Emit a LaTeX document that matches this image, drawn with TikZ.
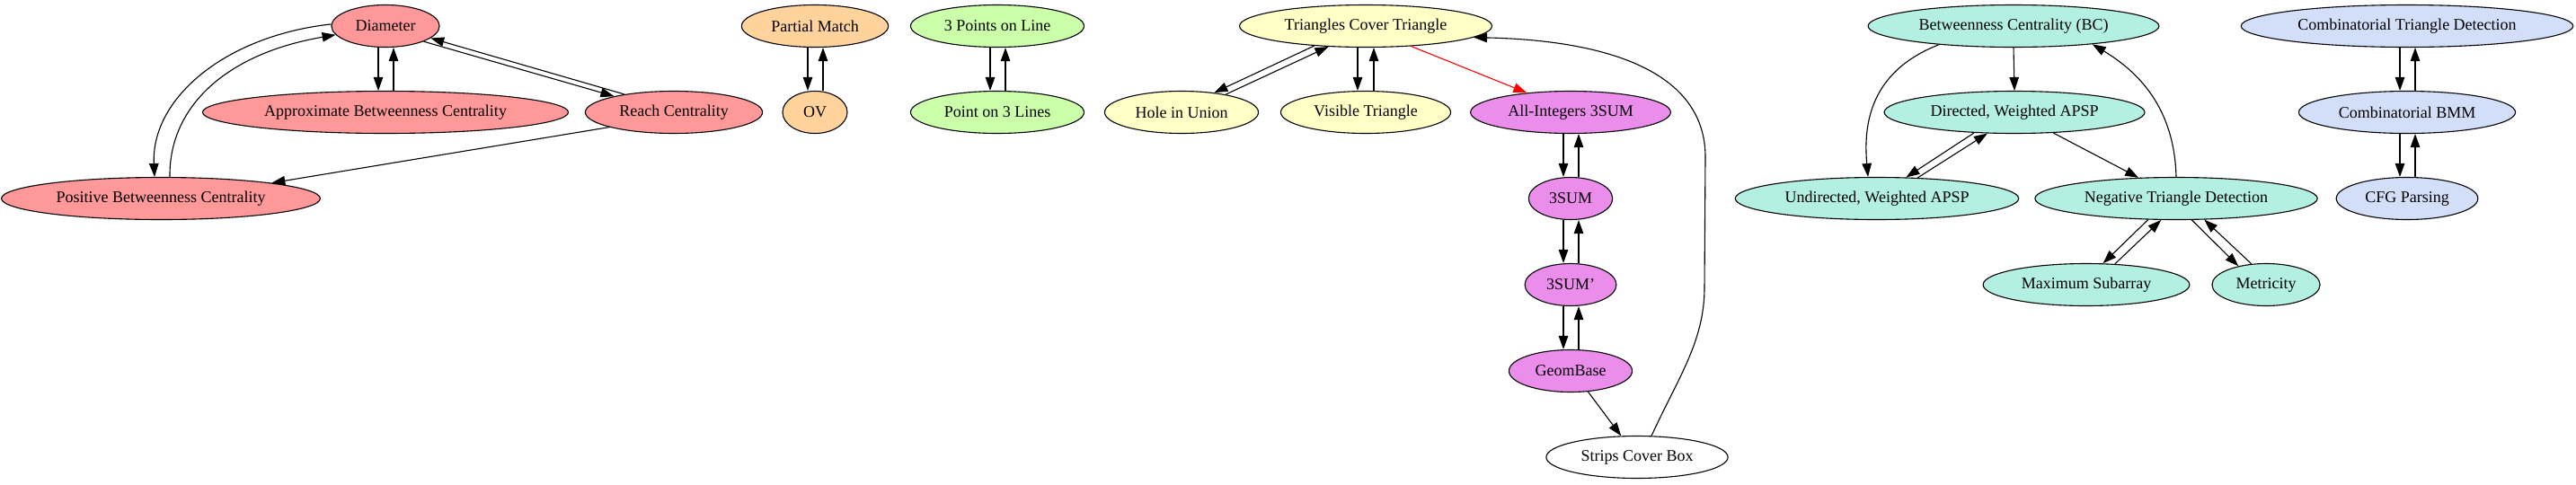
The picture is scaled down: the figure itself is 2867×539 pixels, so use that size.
\documentclass[tikz,border=0pt]{standalone}
\usepackage{fontspec}
\setmainfont{Liberation Serif}
\usetikzlibrary{arrows.meta,shapes.geometric}
\definecolor{redfill}{HTML}{FF9999}
\definecolor{orangefill}{HTML}{FFD39B}
\definecolor{greenfill}{HTML}{CCFFAA}
\definecolor{yellowfill}{HTML}{FFFFC6}
\definecolor{violetfill}{HTML}{EB8EEB}
\definecolor{tealfill}{HTML}{B3F0E1}
\definecolor{bluefill}{HTML}{D3DEF8}
\tikzset{
  prob/.style={ellipse, draw, line width=1.1pt, inner xsep=9pt, inner ysep=2pt,
    minimum height=47pt, minimum width=72pt, font=\fontsize{18}{20}\selectfont},
  redprob/.style={prob, fill=redfill},
  orangeprob/.style={prob, fill=orangefill},
  greenprob/.style={prob, fill=greenfill},
  yellowprob/.style={prob, fill=yellowfill},
  violetprob/.style={prob, fill=violetfill},
  tealprob/.style={prob, fill=tealfill},
  blueprob/.style={prob, fill=bluefill}
}
\begin{document}
\begin{tikzpicture}[x=1pt,y=-1pt,>={Triangle[length=15pt,width=10.5pt]},line width=1.1pt]
\useasboundingbox (0,0) rectangle (2867,539);
\node [redprob] (dia) at (429,29) {Diameter};
\node [redprob] (abc) at (429,125) {Approximate Betweenness Centrality};
\node [redprob] (rch) at (750,125) {Reach Centrality};
\node [redprob] (pbc) at (179,221) {Positive Betweenness Centrality};
\node [orangeprob] (pm) at (907,29) {Partial Match};
\node [orangeprob] (ov) at (907,125) {OV};
\node [greenprob] (tpl) at (1110,29) {3 Points on Line};
\node [greenprob] (pol) at (1110,125) {Point on 3 Lines};
\node [yellowprob] (tct) at (1520,29) {Triangles Cover Triangle};
\node [yellowprob] (hiu) at (1315,125) {Hole in Union};
\node [yellowprob] (vis) at (1520,125) {Visible Triangle};
\node [violetprob] (ai3) at (1748,125) {All-Integers 3SUM};
\node [violetprob] (tsum) at (1748,221) {3SUM};
\node [violetprob] (tsump) at (1748,317) {3SUM'};
\node [violetprob] (geo) at (1748,413) {GeomBase};
\node [prob] (scb) at (1822,509) {Strips Cover Box};
\node [tealprob] (bc) at (2241,29) {Betweenness Centrality (BC)};
\node [tealprob] (dwa) at (2242,125) {Directed, Weighted APSP};
\node [tealprob] (uwa) at (2089,221) {Undirected, Weighted APSP};
\node [tealprob] (ntd) at (2422,221) {Negative Triangle Detection};
\node [tealprob] (msa) at (2322,317) {Maximum Subarray};
\node [tealprob] (met) at (2522,317) {Metricity};
\node [blueprob] (ctd) at (2679,29) {Combinatorial Triangle Detection};
\node [blueprob] (bmm) at (2679,125) {Combinatorial BMM};
\node [blueprob] (cfg) at (2679,221) {CFG Parsing};

\draw [->] ([xshift=-8]dia.south) -- ([xshift=-8]abc.north);
\draw [->] ([xshift=9]abc.north) -- ([xshift=9]dia.south);
\draw [->] (dia.-22) -- (rch.165);
\draw [->] (rch.160) -- (dia.-15);
\draw [->] (dia.178) .. controls (250,40) and (168,110) .. ([xshift=-7]pbc.north);
\draw [->] ([xshift=10]pbc.north) .. controls (188,120) and (250,60) .. (dia.190);
\draw [->] (rch.193) -- (pbc.8);
\draw [->] ([xshift=-8]pm.south) -- ([xshift=-8]ov.north);
\draw [->] ([xshift=9]ov.north) -- ([xshift=9]pm.south);
\draw [->] ([xshift=-8]tpl.south) -- ([xshift=-8]pol.north);
\draw [->] ([xshift=9]pol.north) -- ([xshift=9]tpl.south);
\draw [->] (tct.201) -- (hiu.31);
\draw [->] (hiu.22) -- (tct.209);
\draw [->] ([xshift=-9]tct.south) -- ([xshift=-9]vis.north);
\draw [->] ([xshift=9]vis.north) -- ([xshift=9]tct.south);
\draw [->, red] (tct.-24) -- (ai3.156);
\draw [->] ([xshift=-8]ai3.south) -- ([xshift=-8]tsum.north);
\draw [->] ([xshift=9]tsum.north) -- ([xshift=9]ai3.south);
\draw [->] ([xshift=-8]tsum.south) -- ([xshift=-8]tsump.north);
\draw [->] ([xshift=9]tsump.north) -- ([xshift=9]tsum.south);
\draw [->] ([xshift=-8]tsump.south) -- ([xshift=-8]geo.north);
\draw [->] ([xshift=9]geo.north) -- ([xshift=9]tsump.south);
\draw [->] (geo.-50) -- (scb.127);
\draw [->] (scb.56) .. controls (1868,420) and (1897,380) .. (1897,320) -- (1898,175)
  .. controls (1898,80) and (1790,45) .. (tct.-6);
\draw [->] (bc.194) .. controls (2080,80) and (2074,140) .. ([xshift=-10]uwa.north);
\draw [->] (bc.south) -- (dwa.north);
\draw [->] (dwa.207) -- (uwa.36);
\draw [->] (uwa.27) -- (dwa.218);
\draw [->] (dwa.-28) -- (ntd.151);
\draw [->] (ntd.north) .. controls (2420,120) and (2380,80) .. (bc.-13);
\draw [->] (ntd.217) -- (msa.52);
\draw [->] (msa.36) -- (ntd.235);
\draw [->] (ntd.-54) -- (met.146);
\draw [->] (met.125) -- (ntd.-37);
\draw [->] ([xshift=-8]ctd.south) -- ([xshift=-8]bmm.north);
\draw [->] ([xshift=9]bmm.north) -- ([xshift=9]ctd.south);
\draw [->] ([xshift=-8]bmm.south) -- ([xshift=-8]cfg.north);
\draw [->] ([xshift=9]cfg.north) -- ([xshift=9]bmm.south);
\end{tikzpicture}
\end{document}
